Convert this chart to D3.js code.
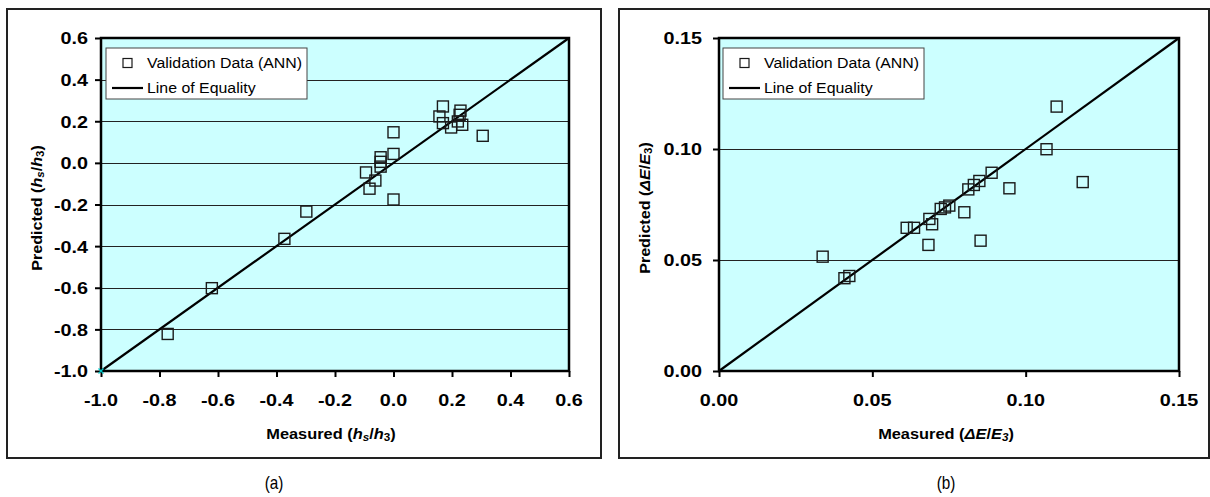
<!DOCTYPE html>
<html>
<head>
<meta charset="utf-8">
<script src="https://cdn.jsdelivr.net/npm/d3@7"></script>
<style>
  html, body { margin: 0; padding: 0; background: #fff; }
  svg { display: block; }
</style>
</head>
<body>
<svg id="chart" width="1210" height="497"></svg>
<script>
// ---------------- data ----------------
const ticksA = [-1.0, -0.8, -0.6, -0.4, -0.2, 0.0, 0.2, 0.4, 0.6];
const measuredA  = [-0.772, -0.621, -0.373, -0.298, -0.094, -0.082, -0.062, -0.044, -0.044, -0.044, 0.0, 0.0, 0.0,
                    0.157, 0.169, 0.169, 0.197, 0.220, 0.226, 0.229, 0.235, 0.305];
const predictedA = [-0.822, -0.602, -0.365, -0.234, -0.046, -0.124, -0.085, -0.018, 0.005, 0.027, 0.043, 0.147, -0.176,
                    0.223, 0.271, 0.191, 0.170, 0.199, 0.231, 0.251, 0.183, 0.130];
const equalityA = [-1.0, 0.6];

const ticksB = [0.00, 0.05, 0.10, 0.15];
const measuredB  = [0.0338, 0.0409, 0.0425, 0.0612, 0.0636, 0.0683, 0.0686, 0.0695, 0.0723, 0.0737, 0.0751,
                    0.0800, 0.0813, 0.0831, 0.0849, 0.0853, 0.0889, 0.0947, 0.1068, 0.1101, 0.1186];
const predictedB = [0.0515, 0.0418, 0.0428, 0.0645, 0.0645, 0.0568, 0.0685, 0.0661, 0.0730, 0.0737, 0.0745,
                    0.0715, 0.0818, 0.0838, 0.0856, 0.0587, 0.0893, 0.0823, 0.0999, 0.1191, 0.0851];
const equalityB = [0.00, 0.15];

const legendLabels = ["Validation Data (ANN)", "Line of Equality"];
const captions = ["(a)", "(b)"];

// ---------------- drawing ----------------
const svg = d3.select("#chart");
const SANS = "'Liberation Sans', Arial, sans-serif";

function stretchedText(g, x, y, sx, opts) {
  const t = g.append("text")
    .attr("transform", `translate(${x},${y})${opts.rotate ? " rotate(" + opts.rotate + ")" : ""} scale(${sx},1)`)
    .attr("font-family", opts.family || SANS)
    .attr("font-size", opts.size)
    .attr("font-weight", opts.weight || "normal")
    .attr("text-anchor", opts.anchor || "start")
    .attr("dominant-baseline", "central")
    .attr("fill", "#000");
  return t;
}

function addRuns(t, runs) {
  runs.forEach(r => {
    const ts = t.append("tspan").text(r.t);
    if (r.i) ts.attr("font-style", "italic");
    if (r.sub) ts.attr("font-size", 10).attr("dy", 4);
    if (r.up) ts.attr("dy", -4);
  });
}

function drawPanel(cfg) {
  const g = svg.append("g");
  // outer frame
  g.append("rect").attr("x", cfg.frame[0]).attr("y", cfg.frame[1])
    .attr("width", cfg.frame[2]).attr("height", cfg.frame[3])
    .attr("fill", "#fff").attr("stroke", "#222").attr("stroke-width", 2);

  const x = d3.scaleLinear().domain([cfg.ticks[0], cfg.ticks[cfg.ticks.length - 1]]).range([cfg.plot[0], cfg.plot[2]]);
  const y = d3.scaleLinear().domain([cfg.ticks[0], cfg.ticks[cfg.ticks.length - 1]]).range([cfg.plot[3], cfg.plot[1]]);

  // plot background
  g.append("rect").attr("x", x.range()[0]).attr("y", y.range()[1])
    .attr("width", x.range()[1] - x.range()[0]).attr("height", y.range()[0] - y.range()[1])
    .attr("fill", "#CCFFFF");

  // gridlines
  g.selectAll(".grid").data(cfg.ticks.slice(1, -1)).enter().append("line")
    .attr("x1", x.range()[0]).attr("x2", x.range()[1])
    .attr("y1", d => Math.round(y(d)) + 0.5).attr("y2", d => Math.round(y(d)) + 0.5)
    .attr("stroke", "#222").attr("stroke-width", 1);

  // line of equality
  const line = d3.line().x(d => x(d)).y(d => y(d));
  g.append("path").attr("d", line(cfg.equality))
    .attr("fill", "none").attr("stroke", "#000").attr("stroke-width", 2.2);

  // squares
  const s = 11;
  g.selectAll(".pt").data(cfg.xs.map((v, i) => [v, cfg.ys[i]])).enter().append("rect")
    .attr("x", d => x(d[0]) - s / 2).attr("y", d => y(d[1]) - s / 2)
    .attr("width", s).attr("height", s)
    .attr("fill", "none").attr("stroke", "#1a1a1a").attr("stroke-width", 1.4);

  // plot border
  g.append("rect").attr("x", x.range()[0]).attr("y", y.range()[1])
    .attr("width", x.range()[1] - x.range()[0]).attr("height", y.range()[0] - y.range()[1])
    .attr("fill", "none").attr("stroke", "#000").attr("stroke-width", 2.5);

  // tick marks via d3 axes
  const ax = g.append("g").attr("transform", `translate(0,${y.range()[0]})`)
    .call(d3.axisBottom(x).tickValues(cfg.ticks).tickSize(6).tickFormat(""));
  const ay = g.append("g").attr("transform", `translate(${x.range()[0]},0)`)
    .call(d3.axisLeft(y).tickValues(cfg.ticks).tickSize(6).tickFormat(""));
  [ax, ay].forEach(a => {
    a.select(".domain").remove();
    a.selectAll(".tick line").attr("stroke", "#000").attr("stroke-width", 2);
  });

  // tick labels
  cfg.ticks.forEach(v => {
    stretchedText(g, x(v), y.range()[0] + 30, 1.2, { size: 16.5, weight: "bold", anchor: "middle" })
      .text(cfg.fmt(v));
    stretchedText(g, x.range()[0] - cfg.ylabGap, y(v) + 1, 1.2, { size: 16.5, weight: "bold", anchor: "end" })
      .text(cfg.fmt(v));
  });

  // axis titles
  const xt = stretchedText(g, cfg.xTitlePos[0], cfg.xTitlePos[1], 1.17, { size: 14, weight: "bold", anchor: "middle" });
  addRuns(xt, cfg.xTitle);
  const yt = stretchedText(g, cfg.yTitlePos[0], cfg.yTitlePos[1], 1.15, { size: 14, weight: "bold", anchor: "middle", rotate: -90 });
  addRuns(yt, cfg.yTitle);

  // legend
  const lx = cfg.legend[0], ly = cfg.legend[1];
  g.append("rect").attr("x", lx).attr("y", ly).attr("width", 201).attr("height", 51)
    .attr("fill", "#fff").attr("stroke", "#444").attr("stroke-width", 1);
  g.append("rect").attr("x", lx + 17).attr("y", ly + 10.5).attr("width", 9).attr("height", 9)
    .attr("fill", "none").attr("stroke", "#1a1a1a").attr("stroke-width", 1.2);
  g.append("line").attr("x1", lx + 6).attr("x2", lx + 37).attr("y1", ly + 40).attr("y2", ly + 40)
    .attr("stroke", "#000").attr("stroke-width", 2.2);
  stretchedText(g, lx + 41, ly + 15, 1.06, { size: 15 }).text(legendLabels[0]);
  stretchedText(g, lx + 41, ly + 40, 1.06, { size: 15 }).text(legendLabels[1]);

  // caption
  stretchedText(g, cfg.caption[0], cfg.caption[1], 0.85, { size: 18, anchor: "middle" }).text(cfg.captionText);

  return { x, y, g };
}

const pa = drawPanel({
  frame: [7, 9, 594, 449],
  plot: [101, 38, 569, 371],
  ticks: ticksA,
  xs: measuredA, ys: predictedA, equality: equalityA,
  fmt: d => d.toFixed(1),
  ylabGap: 13,
  xTitlePos: [331, 433],
  xTitle: [{ t: "Measured (" }, { t: "h", i: 1 }, { t: "s", i: 1, sub: 1 }, { t: "/", up: 1 }, { t: "h", i: 1 }, { t: "3", sub: 1 }, { t: ")", up: 1 }],
  yTitlePos: [36, 208],
  yTitle: [{ t: "Predicted (" }, { t: "h", i: 1 }, { t: "s", i: 1, sub: 1 }, { t: "/", up: 1 }, { t: "h", i: 1 }, { t: "3", sub: 1 }, { t: ")", up: 1 }],
  legend: [106, 48],
  caption: [274, 483], captionText: captions[0]
});
// small cyan marker at the origin corner of panel (a)
pa.g.append("path").attr("d", `M${pa.x(-1) - 2.5},${pa.y(-1) - 2.5}l5,5M${pa.x(-1) - 2.5},${pa.y(-1) + 2.5}l5,-5`)
  .attr("stroke", "#00CCCC").attr("stroke-width", 1.2);

drawPanel({
  frame: [619, 9, 590, 449],
  plot: [719, 38, 1179, 371],
  ticks: ticksB,
  xs: measuredB, ys: predictedB, equality: equalityB,
  fmt: d => d.toFixed(2),
  ylabGap: 17,
  xTitlePos: [946, 433],
  xTitle: [{ t: "Measured (" }, { t: "ΔE", i: 1 }, { t: "/" }, { t: "E", i: 1 }, { t: "3", sub: 1, i: 1 }, { t: ")", up: 1 }],
  yTitlePos: [644, 208],
  yTitle: [{ t: "Predicted (" }, { t: "ΔE", i: 1 }, { t: "/" }, { t: "E", i: 1 }, { t: "3", sub: 1 }, { t: ")", up: 1 }],
  legend: [723, 48],
  caption: [946, 483], captionText: captions[1]
});
</script>
</body>
</html>
